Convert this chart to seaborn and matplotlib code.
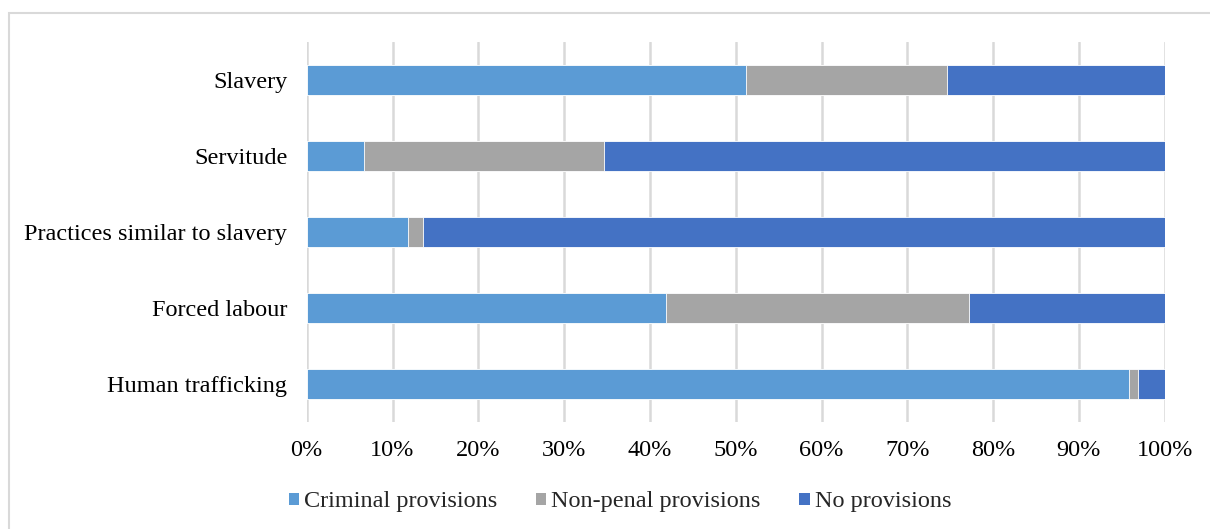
import matplotlib
matplotlib.use("Agg")
import matplotlib.pyplot as plt
from matplotlib.patches import Patch, Rectangle
import seaborn as sns
import pandas as pd

# Share of States with each type of provision, by practice (%)
categories = ["Slavery", "Servitude", "Practices similar to slavery",
              "Forced labour", "Human trafficking"]
criminal = [51.2, 6.7, 11.8, 41.9, 95.8]
non_penal = [23.4, 28.0, 1.7, 35.3, 1.1]
no_prov = [25.4, 65.3, 86.5, 22.8, 3.1]
series_names = ["Criminal provisions", "Non-penal provisions", "No provisions"]
colors = ["#5B9BD5", "#A5A5A5", "#4472C4"]
tick_values = list(range(0, 101, 10))
tick_labels = [f"{v}%" for v in tick_values]

sns.set_theme(style="white")
plt.rcParams["font.family"] = ["Liberation Serif", "DejaVu Serif"]

df = pd.DataFrame({"category": categories, "criminal": criminal,
                   "non_penal": non_penal, "none": no_prov})
df["c1"] = df["criminal"]
df["c2"] = df["criminal"] + df["non_penal"]
df["c3"] = df["c2"] + df["none"]

fig = plt.figure(figsize=(12.1, 5.29), dpi=100)
ax = fig.add_axes([306.7 / 1210, 1 - 422 / 529, 858 / 1210, 380 / 529])

# stacked bars: draw cumulative totals back to front
for col, color in zip(["c3", "c2", "c1"], colors[::-1]):
    sns.barplot(data=df, x=col, y="category", order=categories, color=color,
                width=0.4, ax=ax, saturation=1, edgecolor="white",
                linewidth=0.6, zorder=3)

ax.set_xlim(0, 100)
ax.set_ylim(4.5, -0.5)
ax.set_xticks(tick_values)
ax.set_xticklabels(tick_labels)
ax.set_xlabel("")
ax.set_ylabel("")
ax.grid(axis="x", color="#D9D9D9", linewidth=1.8, zorder=0)
ax.grid(axis="y", visible=False)
for s in ax.spines.values():
    s.set_visible(False)
ax.tick_params(axis="x", length=0, pad=13, labelsize=17.5, colors="black")
ax.tick_params(axis="y", length=0, pad=14, labelsize=17.5, colors="black")

handles = [Patch(facecolor=c, edgecolor="none") for c in colors]
fig.legend(handles, series_names, loc="center",
           bbox_to_anchor=(620 / 1210, 1 - 502 / 529),
           ncol=3, frameon=False, fontsize=17.5, handlelength=0.42,
           handleheight=0.42, handletextpad=0.2, columnspacing=1.6)

# chart area border
fig.add_artist(Rectangle((9 / 1210, -0.1), 1.2, 1 - 12.5 / 529 + 0.1,
                         transform=fig.transFigure, fill=False,
                         edgecolor="#D9D9D9", linewidth=1.5))

fig.savefig("out.png", dpi=100, facecolor="white")
